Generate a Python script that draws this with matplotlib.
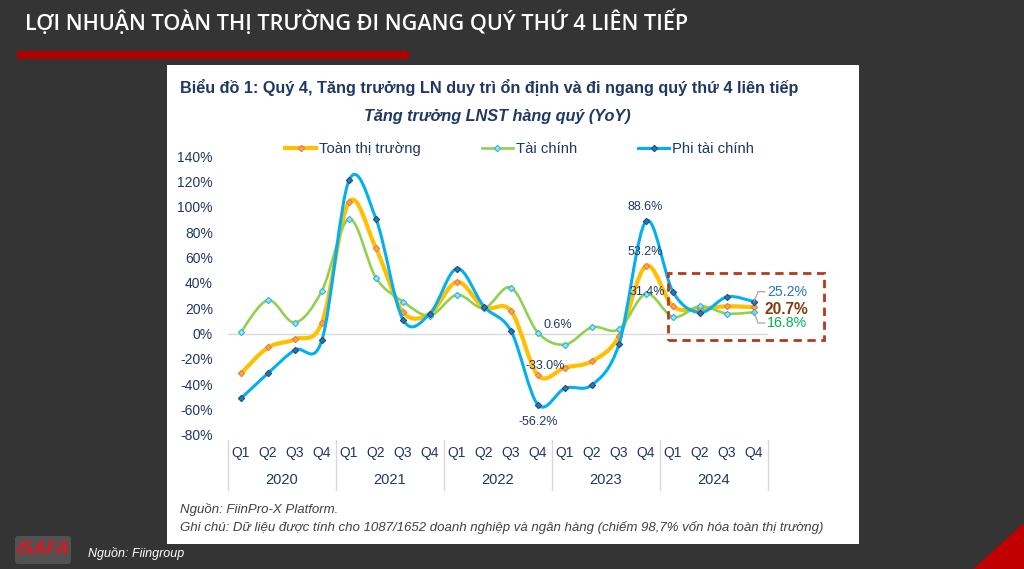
import numpy as np
import matplotlib
matplotlib.use("Agg")
import matplotlib.pyplot as plt
from matplotlib.path import Path
from matplotlib.patches import PathPatch, Rectangle, Polygon, FancyBboxPatch
from matplotlib.lines import Line2D
from matplotlib.transforms import blended_transform_factory

plt.rcParams['font.family'] = ['Liberation Sans', 'DejaVu Sans']

# ---------------- data ----------------
years = ["2020", "2021", "2022", "2023", "2024"]
quarters = ["Q1", "Q2", "Q3", "Q4"]
toan_thi_truong = [-31.5, -11.0, -4.5, 8.7, 103.8, 67.2, 17.0, 15.8, 40.7, 20.5, 17.9,
                   -33.0, -26.8, -21.8, -2.1, 53.2, 21.5, 19.7, 21.5, 20.7]
tai_chinh = [1.3, 26.3, 8.7, 33.9, 90.4, 43.9, 25.2, 14.2, 30.5, 20.0, 36.2,
             0.6, -8.7, 5.0, 3.4, 31.4, 13.1, 21.5, 15.8, 16.8]
phi_tai_chinh = [-51.2, -31.3, -12.9, -5.0, 120.8, 90.4, 11.0, 15.8, 51.2, 21.3, 2.1,
                 -56.2, -43.1, -40.5, -8.4, 88.6, 32.8, 16.5, 28.9, 25.2]
y_ticks = [-80, -60, -40, -20, 0, 20, 40, 60, 80, 100, 120, 140]

NAVY = "#1F3864"
C_ORANGE = "#FFC000"
C_GREEN = "#92D050"
C_BLUE = "#00B0F0"

W, H = 1024, 569
fig = plt.figure(figsize=(W / 100, H / 100), dpi=100)
fig.patch.set_facecolor("#343434")

# background / decoration axes in pixel coordinates
bg = fig.add_axes([0, 0, 1, 1], zorder=0)
bg.set_xlim(0, W)
bg.set_ylim(H, 0)
bg.axis("off")
bg.set_facecolor("#343434")

bg.text(25, 22, "LỢI NHUẬN TOÀN THỊ TRƯỜNG ĐI NGANG QUÝ THỨ 4 LIÊN TIẾP",
        color="white", fontsize=15.6, fontfamily="Open Sans", fontweight="semibold",
        va="center", ha="left")
bg.add_patch(Rectangle((17, 51), 392, 8, color="#B00000", lw=0))
bg.add_patch(Polygon([(973, 569), (1024, 523), (1024, 569)], closed=True, color="#C00000", lw=0))
bg.add_patch(Rectangle((167, 65), 692, 479, color="white", lw=0))

# logo
bg.add_patch(FancyBboxPatch((18, 539), 50, 22, boxstyle="round,pad=3", fc="#8a8a8a", ec="none", alpha=0.35))
bg.text(43, 550, "/SAFA", color="#E0141E", fontsize=13, fontweight="bold", fontstyle="italic",
        ha="center", va="center", fontfamily="Liberation Sans")
bg.text(88, 553, "Nguồn: Fiingroup", color="white", fontsize=9, fontstyle="italic",
        ha="left", va="center")

# titles inside panel
bg.text(180, 87, "Biểu đồ 1: Quý 4, Tăng trưởng LN duy trì ổn định và đi ngang quý thứ 4 liên tiếp",
        color=NAVY, fontsize=11.7, fontweight="bold", ha="left", va="center")
bg.text(497, 116, "Tăng trưởng LNST hàng quý (YoY)", color=NAVY, fontsize=11.7,
        fontweight="bold", fontstyle="italic", ha="center", va="center")
bg.text(180, 510, "Nguồn: FiinPro-X Platform.", color="#404040", fontsize=9.5,
        fontstyle="italic", ha="left", va="center")
bg.text(180, 527, "Ghi chú: Dữ liệu được tính cho 1087/1652 doanh nghiệp và ngân hàng (chiếm 98,7% vốn hóa toàn thị trường)",
        color="#404040", fontsize=9.5, fontstyle="italic", ha="left", va="center")

# ---------------- chart axes ----------------
ax_left, ax_right = 227.5, 767.5
ax_top, ax_bot = 156, 435
ax = fig.add_axes([ax_left / W, 1 - ax_bot / H, (ax_right - ax_left) / W, (ax_bot - ax_top) / H], zorder=1)
ax.patch.set_alpha(0)
n = len(toan_thi_truong)
x = np.arange(n)
ax.set_xlim(-0.5, n - 0.5)
ax.set_ylim(-80, 140)
for s in ax.spines.values():
    s.set_visible(False)
ax.set_xticks([])
ax.set_yticks(y_ticks)
ax.set_yticklabels([f"{v}%" for v in y_ticks])
ax.tick_params(axis="y", length=0, pad=10.5, labelsize=10, labelcolor=NAVY)
ax.axhline(0, color="#D9D9D9", lw=1, zorder=1)


def smooth_path(xs, ys):
    pts = np.column_stack([xs, ys]).astype(float)
    m = len(pts)
    verts = [pts[0]]
    codes = [Path.MOVETO]
    for i in range(m - 1):
        p0 = pts[i - 1] if i > 0 else pts[i]
        p1 = pts[i]
        p2 = pts[i + 1]
        p3 = pts[i + 2] if i + 2 < m else pts[i + 1]
        c1 = p1 + (p2 - p0) / 6.0
        c2 = p2 - (p3 - p1) / 6.0
        verts += [c1, c2, p2]
        codes += [Path.CURVE4] * 3
    return Path(verts, codes)


series = [
    ("Toàn thị trường", toan_thi_truong, C_ORANGE, 3.0, "#F4A460", "#ED7D31"),
    ("Tài chính", tai_chinh, C_GREEN, 1.9, "#9BE3F7", "#2EB4DE"),
    ("Phi tài chính", phi_tai_chinh, C_BLUE, 2.2, "#2E75B6", "#1F4E79"),
]
handles = []
for i, (name, vals, col, lw, mfc, mec) in enumerate(series):
    z = 3 + i
    ax.add_patch(PathPatch(smooth_path(x, vals), fill=False, edgecolor=col, lw=lw,
                           capstyle="round", joinstyle="round", zorder=z))
    ax.plot(x, vals, ls="none", marker="D", ms=3.2, mfc=mfc, mec=mec, mew=0.8, zorder=z + 0.5)
    handles.append(Line2D([], [], color=col, lw=lw, marker="D", ms=3.2, mfc=mfc, mec=mec, mew=0.8))

ax.legend(handles, [s[0] for s in series], loc="center", bbox_to_anchor=(0.541, 1.025),
          ncol=3, frameon=False, fontsize=10.7, handlelength=2.1, handletextpad=0.2,
          columnspacing=4.1, labelcolor=NAVY, borderaxespad=0)

# category axis (two levels)
tr = blended_transform_factory(ax.transData, ax.transAxes)
for k, q in enumerate(quarters * len(years)):
    ax.text(k, -0.065, q, transform=tr, ha="center", va="center", fontsize=10, color=NAVY, clip_on=False)
for j, yname in enumerate(years):
    ax.text(4 * j + 1.5, -0.16, yname, transform=tr, ha="center", va="center", fontsize=10.5, color=NAVY, clip_on=False)
for j in range(len(years) + 1):
    ax.plot([4 * j - 0.5, 4 * j - 0.5], [-0.018, -0.197], transform=tr, color="#D9D9D9", lw=1, clip_on=False)

# data labels
lab_kw = dict(textcoords="offset pixels", ha="center", va="center", fontsize=9, color=NAVY, zorder=10)
ax.annotate(f"{phi_tai_chinh[15]:.1f}%", (15, phi_tai_chinh[15]), xytext=(-1, 14), **lab_kw)
ax.annotate(f"{toan_thi_truong[15]:.1f}%", (15, toan_thi_truong[15]), xytext=(-1, 14), **lab_kw)
ax.annotate(f"{tai_chinh[15]:.1f}%", (15, tai_chinh[15]), xytext=(1, 2), **lab_kw)
ax.annotate(f"{tai_chinh[11]:.1f}%", (11, tai_chinh[11]), xytext=(20, 8), **lab_kw)
ax.annotate(f"{toan_thi_truong[11]:.1f}%", (11, toan_thi_truong[11]), xytext=(7, 9), **lab_kw)
ax.annotate(f"{phi_tai_chinh[11]:.1f}%", (11, phi_tai_chinh[11]), xytext=(0, -17), **lab_kw)

# highlight box and end labels
ax.add_patch(Rectangle((15.8, -5.1), 5.8, 52.8, fill=False, edgecolor="#B23A1E", lw=2,
                       linestyle=(0, (3, 2)), clip_on=False, zorder=9))
ax.plot([19.0, 19.15, 19.4], [phi_tai_chinh[19], 33.0, 33.0], color="#A6A6A6", lw=0.9, clip_on=False, zorder=8)
ax.plot([19.0, 19.15, 19.4], [tai_chinh[19], 8.3, 8.3], color="#A6A6A6", lw=0.9, clip_on=False, zorder=8)
ax.text(19.48, 33.0, f"{phi_tai_chinh[19]:.1f}%", color="#2E75B6", fontsize=10.2, ha="left", va="center", clip_on=False)
ax.text(19.38, 19.3, f"{toan_thi_truong[19]:.1f}%", color="#843C0C", fontsize=11.2, fontweight="bold",
        ha="left", va="center", clip_on=False)
ax.text(19.48, 8.3, f"{tai_chinh[19]:.1f}%", color="#00B050", fontsize=10.2, ha="left", va="center", clip_on=False)

fig.savefig("out.png", dpi=100, facecolor=fig.get_facecolor())
